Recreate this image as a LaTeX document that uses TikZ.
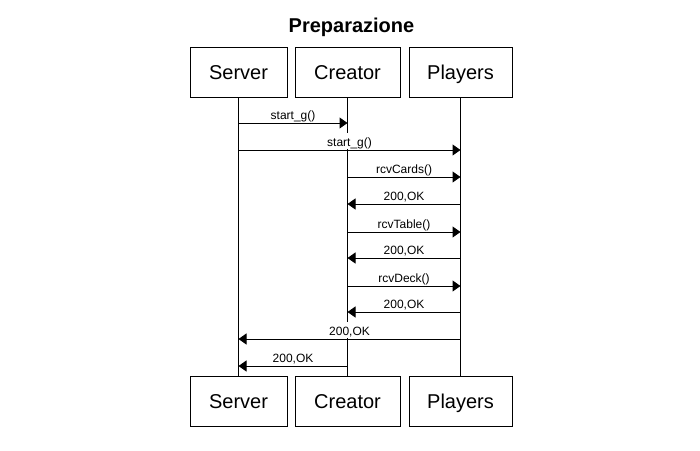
\documentclass[tikz,border=0pt]{standalone}
\usepackage{fontspec}
\setmainfont{Liberation Sans}
\usetikzlibrary{arrows.meta}
\tikzset{
	actor/.style={draw,line width=1pt,minimum height=50pt,inner sep=0pt,text height=14.3pt,text depth=0pt,font=\fontsize{20}{24}\selectfont},
	lifeline/.style={line width=1pt},
	msg/.style={line width=1pt,arrows={-Triangle[length=8pt,width=11pt]}},
	lbl/.style={fill=white,anchor=south,inner xsep=2pt,inner ysep=1pt,text height=12pt,text depth=2pt,yshift=0.5pt,font=\fontsize{12}{14}\selectfont},
	heading/.style={anchor=base,font=\bfseries\fontsize{20}{24}\selectfont}
	}
\begin{document}
\begin{tikzpicture}[x=1pt,y=-1pt]
	\useasboundingbox[fill=white] (0,0) rectangle (700,450);
	\node[heading] (title) at (351.5,32) {Preparazione};
	\node[actor,minimum width=97pt] (srvT) at (238.5,72) {Server};
	\node[actor,minimum width=105pt] (crtT) at (347.5,72) {Creator};
	\node[actor,minimum width=103pt] (plyT) at (460.5,72) {Players};
	\node[actor,minimum width=97pt] (srvB) at (238.5,401.5) {Server};
	\node[actor,minimum width=105pt] (crtB) at (347.5,401.5) {Creator};
	\node[actor,minimum width=103pt] (plyB) at (460.5,401.5) {Players};
	\draw[lifeline] (srvT) -- (srvB);
	\draw[lifeline] (crtT) -- (crtB);
	\draw[lifeline] (plyT) -- (plyB);
	\coordinate (r1) at (0,123);
	\coordinate (r2) at (0,150);
	\coordinate (r3) at (0,177);
	\coordinate (r4) at (0,204);
	\coordinate (r5) at (0,232);
	\coordinate (r6) at (0,258);
	\coordinate (r7) at (0,286);
	\coordinate (r8) at (0,312);
	\coordinate (r9) at (0,339);
	\coordinate (r10) at (0,366);
	\draw[msg] (srvT |- r1) -- node[lbl] {start\_g()} (crtT |- r1);
	\draw[msg] (srvT |- r2) -- node[lbl] {start\_g()} (plyT |- r2);
	\draw[msg] (crtT |- r3) -- node[lbl] {rcvCards()} (plyT |- r3);
	\draw[msg] (plyT |- r4) -- node[lbl] {200,OK} (crtT |- r4);
	\draw[msg] (crtT |- r5) -- node[lbl] {rcvTable()} (plyT |- r5);
	\draw[msg] (plyT |- r6) -- node[lbl] {200,OK} (crtT |- r6);
	\draw[msg] (crtT |- r7) -- node[lbl] {rcvDeck()} (plyT |- r7);
	\draw[msg] (plyT |- r8) -- node[lbl] {200,OK} (crtT |- r8);
	\draw[msg] (plyT |- r9) -- node[lbl] {200,OK} (srvT |- r9);
	\draw[msg] (crtT |- r10) -- node[lbl] {200,OK} (srvT |- r10);
\end{tikzpicture}
\end{document}
